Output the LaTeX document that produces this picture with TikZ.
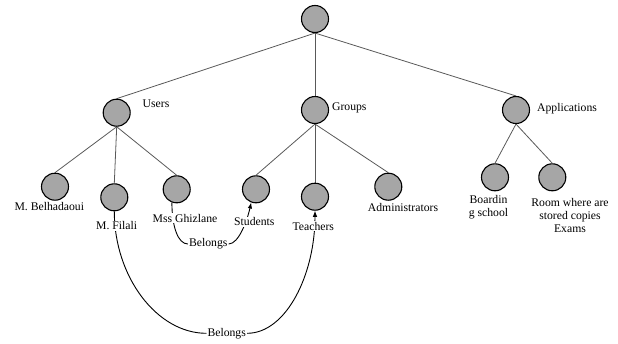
\documentclass[tikz,border=0pt]{standalone}
\usepackage{fontspec}
\setmainfont{Liberation Serif}
\usetikzlibrary{arrows.meta,backgrounds}
\begin{document}
\begin{tikzpicture}[x=1pt,y=-1pt,
  vtx/.style={circle,draw=black,line width=1.1pt,fill=gray!70,minimum size=27pt,inner sep=0pt},
  lbl/.style={font=\fontsize{11.7}{13}\selectfont,inner sep=1pt,fill=white,align=center},
  tree/.style={draw=black!65,line width=0.8pt},
  rel/.style={draw=black,line width=0.9pt},
  arr/.style={rel,-{Latex[length=6pt,width=4.5pt]}}]
\useasboundingbox (0,0) rectangle (618,343);
% circles
\node[vtx] (root) at (315,19) {};
\node[vtx] (users) at (116.7,112.7) {};
\node[vtx] (groups) at (315,110) {};
\node[vtx] (apps) at (516,110) {};
\node[vtx] (belh) at (55,186.7) {};
\node[vtx] (filali) at (114.3,197.3) {};
\node[vtx] (ghiz) at (176.7,189.3) {};
\node[vtx] (stud) at (256,189.3) {};
\node[vtx] (teach) at (315,196.7) {};
\node[vtx] (admin) at (388.3,186.7) {};
\node[vtx] (board) at (495,177.3) {};
\node[vtx] (room) at (552.3,177.3) {};
% labels
\node[lbl] (lusers) at (156,104) {Users};
\node[lbl] (lgroups) at (349.3,108.3) {Groups};
\node[lbl] (lapps) at (567,109) {Applications};
\node[lbl] (lbelh) at (49.3,207) {M. Belhadaoui};
\node[lbl] (lfilali) at (116.7,226) {M. Filali};
\node[lbl] (lghiz) at (185,218.3) {Mss Ghizlane};
\node[lbl] (lstud) at (254.3,221.7) {Students};
\node[lbl] (lteach) at (313.3,226) {Teachers};
\node[lbl] (ladmin) at (403,207.3) {Administrators};
\node[lbl] (lboard) at (488.5,207) {Boardin\\g school};
\node[lbl] (lroom) at (570,215.3) {Room where are\\stored copies\\Exams};
\node[lbl] (bel1) at (208.3,244) {Belongs};
\node[lbl] (bel2) at (226.7,333.3) {Belongs};
\begin{scope}[on background layer]
\draw[tree] (root.south) -- (users.north);
\draw[tree] (root.south) -- (groups.north);
\draw[tree] (root.south) -- (apps.north);
\draw[tree] (users.south) -- (belh.north);
\draw[tree] (users.south) -- (filali.north);
\draw[tree] (users.south) -- (ghiz.north);
\draw[tree] (groups.south) -- (stud.north);
\draw[tree] (groups.south) -- (teach.north);
\draw[tree] (groups.south) -- (admin.north);
\draw[tree] (apps.south) -- (board.north);
\draw[tree] (apps.south) -- (room.north);
\draw[rel] (ghiz.250) .. controls +(0,24) and +(-10,0) .. (bel1.west);
\draw[arr] (bel1.east) .. controls +(10,0) and +(-4,18) .. (stud.-110);
\draw[rel] (filali.south) .. controls +(0,66) and +(-49,0) .. (bel2.west);
\draw[arr] (bel2.east) .. controls +(39,0) and +(0,64) .. (teach.south);
\end{scope}
\end{tikzpicture}
\end{document}
